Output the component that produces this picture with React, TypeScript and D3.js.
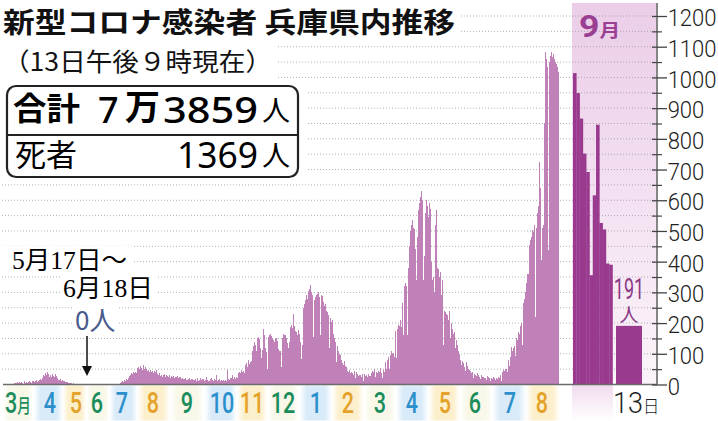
import React, { Component } from "react";
import * as d3 from "d3";

// 日別の新規感染者数（2020年3月〜2021年8月、グラフから読み取り）
const mar20 = [1, 0, 2, 3, 5, 4, 6, 8, 5, 7, 4, 9, 6, 3, 10, 4, 8, 6, 9, 12, 7, 5, 10, 13, 8, 11, 15, 9, 12, 14, 18];
const apr20 = [16, 22, 32, 28, 38, 30, 42, 34, 26, 30, 24, 33, 28, 25, 34, 27, 22, 16, 14, 18, 12, 15, 13, 10, 9, 7, 8, 5, 6, 4];
const may20 = [5, 3, 4, 2, 3, 1, 2, 0, 1, 2, 0, 1, 0, 1, 0, 1, 0, 0, 0, 0, 0, 0, 0, 0, 0, 0, 0, 0, 0, 0, 0];
const jun20 = [0, 0, 0, 0, 0, 0, 0, 0, 0, 0, 0, 0, 0, 0, 0, 0, 0, 0, 4, 7, 10, 8, 14, 12, 18, 16, 22, 28, 32, 36];
const jul20 = [34, 40, 38, 42, 36, 54, 58, 50, 60, 55, 48, 62, 52, 56, 50, 44, 46, 40, 47, 42, 45, 38, 43, 40, 46, 34, 30, 36, 28, 32, 26];
const aug20 = [30, 35, 26, 32, 28, 24, 30, 22, 27, 25, 29, 21, 26, 24, 28, 20, 23, 26, 18, 21, 17, 19, 22, 16, 15, 18, 20, 14, 17, 19, 16];
const sep20 = [15, 18, 13, 20, 12, 16, 22, 14, 19, 17, 11, 15, 24, 16, 13, 10, 18, 21, 14, 12, 17, 15, 30, 13, 16, 19, 12, 14, 11, 15];
const oct20 = [12, 14, 11, 47, 18, 15, 22, 20, 30, 17, 24, 19, 26, 21, 38, 42, 36, 47, 40, 44, 38, 63, 70, 58, 80, 66, 72, 75, 110, 125, 140];
const nov20 = [130, 108, 150, 155, 148, 120, 85, 112, 182, 160, 118, 105, 52, 155, 160, 166, 158, 150, 145, 140, 148, 150, 142, 117, 110, 108, 58, 150, 166, 160];
const dec20 = [162, 150, 135, 120, 140, 188, 193, 185, 231, 190, 175, 170, 160, 177, 165, 140, 82, 128, 250, 262, 275, 290, 280, 305, 310, 323, 300, 290, 155, 275, 285];
const jan21 = [292, 296, 300, 285, 160, 290, 288, 270, 255, 262, 240, 237, 225, 120, 215, 205, 210, 166, 150, 140, 72, 125, 110, 98, 95, 80, 70, 62, 78, 60, 57];
const feb21 = [45, 40, 47, 38, 42, 36, 30, 44, 20, 40, 35, 28, 32, 30, 25, 34, 12, 33, 27, 30, 26, 35, 29, 28, 38, 45, 40, 52];
const mar21 = [24, 42, 38, 45, 40, 55, 36, 22, 48, 40, 74, 52, 81, 88, 50, 95, 110, 98, 104, 88, 175, 85, 180, 195, 190, 210, 188, 266, 160, 320, 330];
const apr21 = [320, 160, 380, 450, 500, 520, 535, 510, 505, 440, 340, 480, 567, 590, 610, 630, 600, 340, 420, 560, 600, 580, 545, 590, 570, 400, 340, 350, 300, 520];
const may21 = [567, 380, 375, 350, 365, 290, 340, 130, 240, 235, 230, 225, 210, 238, 150, 200, 180, 165, 170, 120, 145, 130, 110, 100, 80, 62, 75, 70, 58, 45, 72];
const jun21 = [60, 52, 48, 45, 38, 40, 22, 35, 30, 28, 36, 32, 25, 18, 30, 26, 24, 22, 20, 14, 28, 24, 20, 12, 22, 18, 25, 20, 15, 21];
const jul21 = [18, 25, 22, 30, 12, 40, 47, 45, 52, 50, 42, 80, 60, 88, 123, 110, 118, 125, 92, 150, 145, 170, 165, 190, 200, 130, 265, 280, 300, 330, 360];
const aug21 = [360, 455, 470, 480, 502, 495, 520, 220, 510, 560, 580, 725, 640, 405, 510, 520, 850, 1082, 1060, 1033, 437, 1050, 1070, 1082, 1065, 1077, 1060, 1049, 1044, 1033, 1017];
const dailyMonths = [mar20, apr20, may20, jun20, jul20, aug20, sep20, oct20, nov20, dec20, jan21, feb21, mar21, apr21, may21, jun21, jul21, aug21];

// 9月（強調部分）
const sepDays = ["1", "2", "3", "4", "5", "6", "7", "8", "9", "10", "11", "12"];
const sepValues = [1014, 949, 866, 752, 692, 356, 616, 846, 526, 505, 394, 390];
const todayLabel = "13";
const todayValue = 191;

// 目盛り
const yTickValues = [0, 100, 200, 300, 400, 500, 600, 700, 800, 900, 1000, 1100, 1200];
const yMinorValues = [50, 150, 250, 350, 450, 550, 650, 750, 850, 950, 1050, 1150];

// 月ラベル（置かれている日付）
const monthLabels = [
  { label: "3", unit: "月", at: "2020-03-09" },
  { label: "4", unit: "", at: "2020-04-10" },
  { label: "5", unit: "", at: "2020-05-06" },
  { label: "6", unit: "", at: "2020-05-27" },
  { label: "7", unit: "", at: "2020-06-21" },
  { label: "8", unit: "", at: "2020-07-22" },
  { label: "9", unit: "", at: "2020-08-25" },
  { label: "10", unit: "", at: "2020-09-29" },
  { label: "11", unit: "", at: "2020-10-29" },
  { label: "12", unit: "", at: "2020-11-29" },
  { label: "1", unit: "", at: "2021-01-01" },
  { label: "2", unit: "", at: "2021-02-02" },
  { label: "3", unit: "", at: "2021-03-06" },
  { label: "4", unit: "", at: "2021-04-07" },
  { label: "5", unit: "", at: "2021-05-10" },
  { label: "6", unit: "", at: "2021-06-09" },
  { label: "7", unit: "", at: "2021-07-14" },
  { label: "8", unit: "", at: "2021-08-15" },
];
const labelColors = ["#1b8d5c", "#2b8fcb", "#e5a22a"];
const bandColors = ["#f8f7e8", "#d9ebf8", "#fcefcc"];

const totalMan = "7";
const totalRest = "3859";
const deaths = "1369";

const jp = "'Noto Sans CJK JP', sans-serif";
const num = "Roboto, 'Noto Sans', sans-serif";

export default class HyogoChart extends Component {
  chartRef: any;
  componentDidMount() {
    const W = 718;
    const H = 421;
    const baseY = 384.5;
    const startDate = new Date(Date.UTC(2020, 2, 1));
    const endDate = new Date(Date.UTC(2021, 8, 1));
    const parse: any = d3.utcParse("%Y-%m-%d");

    const svg = d3
      .select(this.chartRef)
      .attr("width", W)
      .attr("height", H)
      .attr("viewBox", `0 0 ${W} ${H}`)
      .style("display", "block")
      .style("background", "#fff");
    const defs = svg.append("defs");

    const x = d3.scaleUtc().domain([startDate, endDate]).range([10, 559]);
    const y = d3.scaleLinear().domain([0, 1200]).range([baseY, 16]);
    const xSep = d3.scaleBand().domain(sepDays).range([573, 612.5]);
    const xToday = d3.scaleBand().domain([todayLabel]).range([616, 642]);

    // 日別データ
    const daily: any[] = [];
    let day = startDate;
    dailyMonths.forEach((m) =>
      m.forEach((v) => {
        daily.push({ date: day, value: v });
        day = d3.utcDay.offset(day, 1);
      })
    );

    // グラデーション
    const pink = defs.append("linearGradient").attr("id", "sepBg").attr("x1", 0).attr("y1", 0).attr("x2", 0).attr("y2", 1);
    pink.append("stop").attr("offset", "0%").attr("stop-color", "#ebcde8");
    pink.append("stop").attr("offset", "100%").attr("stop-color", "#fbf4fa");
    const pinkLow = defs.append("linearGradient").attr("id", "sepLow").attr("x1", 0).attr("y1", 0).attr("x2", 0).attr("y2", 1);
    pinkLow.append("stop").attr("offset", "0%").attr("stop-color", "#f1dbef");
    pinkLow.append("stop").attr("offset", "100%").attr("stop-color", "#ffffff");
    bandColors.forEach((c, i) => {
      const gr = defs.append("linearGradient").attr("id", "band" + i).attr("x1", 0).attr("y1", 0).attr("x2", 1).attr("y2", 0);
      gr.append("stop").attr("offset", "0%").attr("stop-color", "#fff");
      gr.append("stop").attr("offset", "22%").attr("stop-color", c);
      gr.append("stop").attr("offset", "78%").attr("stop-color", c);
      gr.append("stop").attr("offset", "100%").attr("stop-color", "#fff");
    });

    // 9月の背景
    svg.append("rect").attr("x", 572).attr("y", 3).attr("width", 84).attr("height", baseY - 3).attr("fill", "url(#sepBg)");
    svg.append("rect").attr("x", 572).attr("y", baseY).attr("width", 41).attr("height", H - baseY).attr("fill", "url(#sepLow)");

    // 月ラベルの帯
    const lx = monthLabels.map((m) => x(parse(m.at)));
    const edges = lx.map((v, i) => (i === 0 ? 3 : (lx[i - 1] + v) / 2));
    edges.push(560);
    svg
      .append("g")
      .selectAll("rect")
      .data(monthLabels)
      .enter()
      .append("rect")
      .attr("x", (d, i) => edges[i])
      .attr("width", (d, i) => edges[i + 1] - edges[i])
      .attr("y", baseY + 1)
      .attr("height", 35)
      .attr("fill", (d, i) => `url(#band${i % 3})`);

    // 目盛り線
    svg
      .append("g")
      .selectAll("line")
      .data(yTickValues.concat(yMinorValues).filter((v) => v > 0))
      .enter()
      .append("line")
      .attr("x1", 2)
      .attr("x2", 655)
      .attr("y1", (d) => y(d))
      .attr("y2", (d) => y(d))
      .attr("stroke", "#9c9c9c")
      .attr("stroke-width", 0.8)
      .attr("stroke-dasharray", "1,2");

    // 文字の白地
    const white = [
      [0, 0, 460, 40],
      [0, 40, 277, 42],
      [0, 82, 306, 99],
      [0, 246, 132, 26],
      [60, 273, 96, 29],
      [72, 305, 45, 29],
    ];
    svg
      .append("g")
      .selectAll("rect")
      .data(white)
      .enter()
      .append("rect")
      .attr("x", (d) => d[0])
      .attr("y", (d) => d[1])
      .attr("width", (d) => d[2])
      .attr("height", (d) => d[3])
      .attr("fill", "#fff");

    // 棒（日別）
    svg
      .append("g")
      .selectAll("rect")
      .data(daily)
      .enter()
      .append("rect")
      .attr("x", (d) => x(d.date))
      .attr("width", (d) => x(d3.utcDay.offset(d.date, 1)) - x(d.date))
      .attr("y", (d) => y(d.value))
      .attr("height", (d) => baseY - y(d.value))
      .attr("fill", "#c081b8")
      .attr("shape-rendering", "crispEdges");

    // 棒（9月）
    svg
      .append("g")
      .selectAll("rect")
      .data(sepValues)
      .enter()
      .append("rect")
      .attr("x", (d, i) => Number(xSep(sepDays[i])))
      .attr("width", xSep.bandwidth() + 0.3)
      .attr("y", (d) => y(d))
      .attr("height", (d) => baseY - y(d))
      .attr("fill", "#993a8f");

    svg
      .append("rect")
      .attr("x", Number(xToday(todayLabel)))
      .attr("width", xToday.bandwidth())
      .attr("y", y(todayValue))
      .attr("height", baseY - y(todayValue))
      .attr("fill", "#993a8f");

    // 基線・縦軸
    svg.append("line").attr("x1", 3).attr("x2", 657).attr("y1", baseY).attr("y2", baseY).attr("stroke", "#6b6b6b").attr("stroke-width", 1.5);
    svg.append("line").attr("x1", 657).attr("x2", 657).attr("y1", 3).attr("y2", baseY).attr("stroke", "#444").attr("stroke-width", 1.3);

    const major = svg.append("g").attr("transform", "translate(652,0)");
    major.call(d3.axisRight(y).tickValues(yTickValues).tickSize(15).tickPadding(2).tickFormat(d3.format("d")) as any);
    major.select(".domain").remove();
    major.selectAll("line").attr("stroke", "#444").attr("stroke-width", 1.3);
    major
      .selectAll("text")
      .attr("font-family", num)
      .attr("font-size", 24)
      .attr("font-weight", 300)
      .attr("fill", "#222")
      .attr("dy", "0.4em")
      .attr("transform", "scale(0.92,1)");

    const minor = svg.append("g").attr("transform", "translate(652,0)");
    minor.call(d3.axisRight(y).tickValues(yMinorValues).tickSize(10).tickFormat(() => "") as any);
    minor.select(".domain").remove();
    minor.selectAll("line").attr("stroke", "#444").attr("stroke-width", 1.2);

    // 月ラベル
    const ml = svg
      .append("g")
      .selectAll("text")
      .data(monthLabels)
      .enter()
      .append("text")
      .attr("transform", (d, i) => `translate(${lx[i]},413) scale(0.72,1)`)
      .attr("text-anchor", "middle")
      .attr("fill", (d, i) => labelColors[i % 3])
      .attr("font-family", num)
      .attr("font-weight", 500)
      .attr("font-size", 30);
    ml.append("tspan").text((d) => d.label);
    ml.append("tspan").attr("font-family", jp).attr("font-size", 19).text((d) => d.unit);

    const t13 = svg
      .append("text")
      .attr("transform", `translate(${Number(xToday(todayLabel)) - 3},413) scale(0.9,1)`)
      .attr("fill", "#222")
      .attr("font-weight", 300);
    t13.append("tspan").attr("font-family", num).attr("font-size", 30).text(todayLabel);
    t13.append("tspan").attr("font-family", jp).attr("font-size", 18).text("日");

    // 9月表示
    const sepTitle = svg.append("text").attr("transform", "translate(579,37) scale(1.15,1)").attr("fill", "#9b3f93").attr("font-weight", 700);
    sepTitle.append("tspan").attr("font-family", num).attr("font-size", 31).text("9");
    sepTitle.append("tspan").attr("font-family", jp).attr("font-size", 18).text("月");

    const todayX = Number(xToday(todayLabel)) + xToday.bandwidth() / 2;
    svg
      .append("text")
      .attr("transform", `translate(${todayX},${y(todayValue) - 27}) scale(0.62,1)`)
      .attr("text-anchor", "middle")
      .attr("font-family", num)
      .attr("font-size", 29)
      .attr("fill", "#8b3a86")
      .text(String(todayValue));
    svg
      .append("text")
      .attr("x", todayX)
      .attr("y", y(todayValue) - 4)
      .attr("text-anchor", "middle")
      .attr("font-family", jp)
      .attr("font-size", 19)
      .attr("fill", "#8b3a86")
      .text("人");

    // 5月17日〜6月18日 0人
    const serif = "'Liberation Serif', 'Noto Sans CJK JP', serif";
    svg.append("text").attr("x", 12).attr("y", 269).attr("font-family", serif).attr("font-size", 25).attr("textLength", 115).attr("lengthAdjust", "spacingAndGlyphs").text("5月17日〜");
    svg.append("text").attr("x", 63).attr("y", 297).attr("font-family", serif).attr("font-size", 25).attr("textLength", 90).attr("lengthAdjust", "spacingAndGlyphs").text("6月18日");
    svg.append("text").attr("x", 75).attr("y", 330).attr("font-family", jp).attr("font-size", 26).attr("fill", "#4a5a8c").text("0人");
    const ax = x(parse("2020-05-17"));
    svg.append("line").attr("x1", ax).attr("x2", ax).attr("y1", 336).attr("y2", 368).attr("stroke", "#111").attr("stroke-width", 1.5);
    svg.append("path").attr("d", `M${ax - 5},366 L${ax + 5},366 L${ax},376 Z`).attr("fill", "#111");

    // タイトル
    svg
      .append("text")
      .attr("x", 3)
      .attr("y", 32.5)
      .attr("font-family", jp)
      .attr("font-size", 28)
      .attr("font-weight", 700)
      .attr("fill", "#111")
      .attr("textLength", 452)
      .attr("lengthAdjust", "spacingAndGlyphs")
      .text("新型コロナ感染者 兵庫県内推移");
    svg
      .append("text")
      .attr("x", 3)
      .attr("y", 71)
      .attr("font-family", jp)
      .attr("font-size", 25)
      .attr("fill", "#111")
      .attr("textLength", 269)
      .attr("lengthAdjust", "spacingAndGlyphs")
      .text("（13日午後９時現在）");

    // 合計・死者の枠
    svg.append("rect").attr("x", 7).attr("y", 86).attr("width", 291).attr("height", 91).attr("rx", 9).attr("fill", "#fff").attr("stroke", "#222").attr("stroke-width", 2.2);
    svg.append("line").attr("x1", 7).attr("x2", 298).attr("y1", 135).attr("y2", 135).attr("stroke", "#222").attr("stroke-width", 2);

    svg.append("text").attr("x", 13).attr("y", 120).attr("font-family", jp).attr("font-size", 32).attr("font-weight", 700).attr("textLength", 67).attr("lengthAdjust", "spacingAndGlyphs").text("合計");
    svg.append("text").attr("x", 98).attr("y", 123).attr("font-family", "'Noto Sans', sans-serif").attr("font-size", 36).attr("font-weight", 500).text(totalMan);
    svg.append("text").attr("x", 125).attr("y", 120).attr("font-family", jp).attr("font-size", 35).attr("font-weight", 700).text("万");
    svg.append("text").attr("x", 163).attr("y", 123).attr("font-family", "'Noto Sans', sans-serif").attr("font-size", 37).attr("font-weight", 500).attr("textLength", 95).attr("lengthAdjust", "spacingAndGlyphs").text(totalRest);
    svg.append("text").attr("x", 262).attr("y", 121).attr("font-family", jp).attr("font-size", 28).text("人");

    svg.append("text").attr("x", 15).attr("y", 166).attr("font-family", jp).attr("font-size", 31).attr("textLength", 62).attr("lengthAdjust", "spacingAndGlyphs").text("死者");
    svg.append("text").attr("x", 177).attr("y", 168).attr("font-family", "'Noto Sans', sans-serif").attr("font-size", 37).attr("textLength", 81).attr("lengthAdjust", "spacingAndGlyphs").text(deaths);
    svg.append("text").attr("x", 262).attr("y", 166).attr("font-family", jp).attr("font-size", 28).text("人");
  }
  render() {
    return (
      <div style={{ position: "absolute", left: 0, top: 0 }}>
        <svg ref={(r) => (this.chartRef = r)}></svg>
      </div>
    );
  }
}
